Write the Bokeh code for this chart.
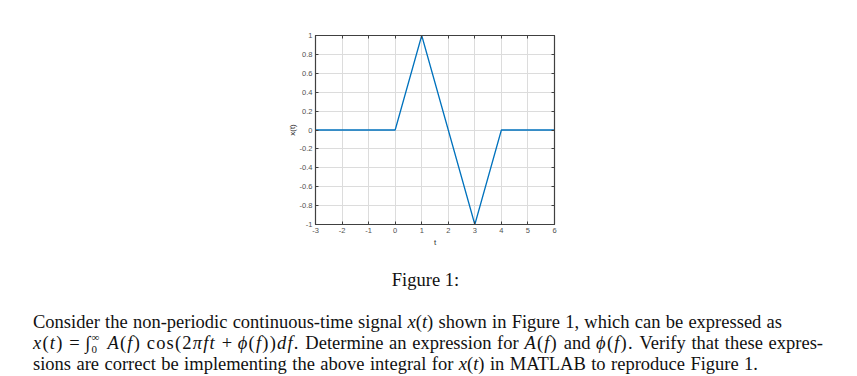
from bokeh.plotting import figure
from bokeh.layouts import column
from bokeh.models import FixedTicker, LinearAxis, Range1d, Div
from bokeh.embed import file_html
from bokeh.resources import INLINE

# data
t_vals = [-3, 0, 1, 3, 4, 6]
x_vals = [0, 0, 1, -1, 0, 0]
xticks = [-3, -2, -1, 0, 1, 2, 3, 4, 5, 6]
xtick_labels = ["-3", "-2", "-1", "0", "1", "2", "3", "4", "5", "6"]
yticks = [-1, -0.8, -0.6, -0.4, -0.2, 0, 0.2, 0.4, 0.6, 0.8, 1]
ytick_labels = ["-1", "-0.8", "-0.6", "-0.4", "-0.2", "0", "0.2", "0.4", "0.6", "0.8", "1"]
caption = "Figure 1:"
LIMITS = ('<span style="display:inline-block;position:relative;width:17px;height:1px;">'
          '<span style="position:absolute;left:1px;bottom:6px;font-size:11px;line-height:11px;">\u221e</span>'
          '<span style="position:absolute;left:1px;top:-4px;font-size:11px;line-height:11px;">0</span></span>')
M = '<span style="letter-spacing:1.2px;">'
E = '</span>'
para_lines = [
    "Consider the non-periodic continuous-time signal <i>x</i>(<i>t</i>) shown in Figure 1, which can be expressed as",
    M + "<i>x</i>(<i>t</i>)" + E + " = \u222b" + LIMITS +
    M + "<i>A</i>(<i>f</i>)" + E + " " + M + "cos(2<i>\u03c0ft</i>" + E + " + " +
    M + "<i>\u03d5</i>(<i>f</i>))<i>df</i>." + E + " Determine an expression for " +
    M + "<i>A</i>(<i>f</i>)" + E + " and " + M + "<i>\u03d5</i>(<i>f</i>)." + E +
    " Verify that these expres-",
    "sions are correct be implementing the above integral for <i>x</i>(<i>t</i>) in MATLAB to reproduce Figure 1.",
]

AX = "#404040"
TICKFONT = "Liberation Sans"
PH = 252

p = figure(width=857, height=PH, output_backend="svg", toolbar_location=None,
           x_range=Range1d(-3, 6), y_range=Range1d(-1, 1),
           min_border_left=315, min_border_right=303, min_border_top=35, min_border_bottom=PH - 224,
           outline_line_color=AX, outline_line_width=1.2)
p.line(t_vals, x_vals, line_color="#0072BD", line_width=1.3)

p.xaxis.ticker = FixedTicker(ticks=xticks)
p.yaxis.ticker = FixedTicker(ticks=yticks)
p.xaxis.major_label_overrides = {k: v for k, v in zip(xticks, xtick_labels)}
p.yaxis.major_label_overrides = {k: v for k, v in zip(yticks, ytick_labels)}
p.xaxis.axis_label = "t"
p.yaxis.axis_label = "x(t)"
for ax in (p.xaxis, p.yaxis):
    ax.major_tick_in = 3
    ax.major_tick_out = 0
    ax.minor_tick_in = 0
    ax.minor_tick_out = 0
    ax.axis_line_color = AX
    ax.major_tick_line_color = AX
    ax.major_label_text_font = TICKFONT
    ax.major_label_text_font_size = "7.5px"
    ax.major_label_text_color = "#505050"
    ax.axis_label_text_font = TICKFONT
    ax.axis_label_text_font_size = "8px"
    ax.axis_label_text_font_style = "normal"
    ax.axis_label_text_color = "#303030"
    ax.major_label_standoff = 3
p.xaxis.axis_label_standoff = 2
p.yaxis.axis_label_standoff = 0

top = LinearAxis(ticker=FixedTicker(ticks=xticks),
                 major_label_overrides={k: "" for k in xticks},
                 major_tick_in=3, major_tick_out=0, minor_tick_in=0, minor_tick_out=0,
                 axis_line_color=AX, major_tick_line_color=AX)
right = LinearAxis(ticker=FixedTicker(ticks=yticks),
                   major_label_overrides={k: "" for k in yticks},
                   major_tick_in=3, major_tick_out=0, minor_tick_in=0, minor_tick_out=0,
                   axis_line_color=AX, major_tick_line_color=AX)
p.add_layout(top, "above")
p.add_layout(right, "right")

p.xgrid.ticker = FixedTicker(ticks=xticks)
p.ygrid.ticker = FixedTicker(ticks=yticks)
p.grid.grid_line_color = "#dcdcdc"
p.grid.grid_line_width = 1

# text block below the figure
DH = 376 - PH
FONT = "font-family:'Liberation Serif',serif;font-size:18.5px;color:#111;line-height:20px;"
line_tops = [322, 343, 364]
line_widths = [749, 790, 725]
html = f'<div style="position:relative;width:857px;height:{DH}px;">'
html += (f'<div style="position:absolute;left:0;width:857px;top:{280 - PH - 10}px;'
         f'text-align:center;{FONT}padding-right:6px;box-sizing:border-box;white-space:nowrap;">{caption}</div>')
for ln, yc, w in zip(para_lines, line_tops, line_widths):
    html += (f'<div style="position:absolute;left:33px;top:{yc - PH - 10}px;width:{w}px;height:20px;'
             f'{FONT}text-align:justify;text-align-last:justify;">{ln}</div>')
html += "</div>"

d = Div(text=html, width=857, height=DH, margin=0)

layout = column(p, d, spacing=0)
open("out.html", "w").write(file_html(layout, INLINE))
